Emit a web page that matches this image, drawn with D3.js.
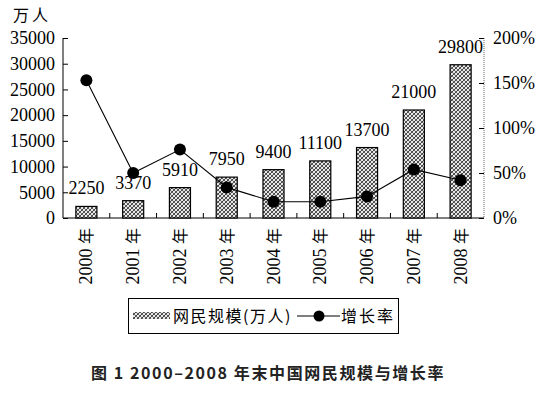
<!DOCTYPE html>
<html><head><meta charset="utf-8">
<script src="https://cdn.jsdelivr.net/npm/d3@7"></script>
<style>body{margin:0;background:#fff;}
.serif{font-family:'Liberation Serif','DejaVu Serif',serif !important;}
</style>
</head><body>
<svg id="c" width="544" height="393"></svg>
<script>
const years = ["2000","2001","2002","2003","2004","2005","2006","2007","2008"];
const users = [2250,3370,5910,7950,9400,11100,13700,21000,29800];
const growth = [153,50,76,34,18,18,24,54,42];
const leftTicks = [0,5000,10000,15000,20000,25000,30000,35000];
const rightTicks = [0,50,100,150,200];

const svg = d3.select("#c");
const L=63,R=484,T=38,B=218;
const serif = "Liberation Serif";
const cjk = "Noto Sans CJK SC";

const defs = svg.append("defs");
const pat = defs.append("pattern").attr("id","hatch").attr("patternUnits","userSpaceOnUse")
  .attr("width",4).attr("height",4);
pat.append("rect").attr("width",4).attr("height",4).attr("fill","#e6e6e6");
pat.append("path").attr("d","M-1,1 l2,-2 M0,4 l4,-4 M3,5 l2,-2").attr("stroke","#333").attr("stroke-width",0.9);
pat.append("path").attr("d","M-1,3 l2,2 M0,0 l4,4 M3,-1 l2,2").attr("stroke","#444").attr("stroke-width",0.8);

const x = d3.scaleBand().domain(years).range([L,R]).paddingInner(0.55).paddingOuter(0.275);
const yL = d3.scaleLinear().domain([0,35000]).range([B,T]);
const yR = d3.scaleLinear().domain([0,200]).range([B,T]);

// axes
const gl = svg.append("g").attr("transform",`translate(${L},0)`)
  .call(d3.axisLeft(yL).tickValues(leftTicks).tickSize(-5).tickPadding(8).tickFormat(d3.format("d")));
const gr = svg.append("g").attr("transform",`translate(${R},0)`)
  .call(d3.axisRight(yR).tickValues(rightTicks).tickSize(-5).tickPadding(9).tickFormat(d=>d+"%"));
[gl,gr].forEach(g=>{
  g.attr("font-family",serif).attr("font-size",18);
  g.select(".domain").attr("d",`M0,${T}V${B}`).attr("stroke","#000");
  g.selectAll("text").attr("class","serif").style("font-family",serif).attr("font-size",18).attr("fill","#000");
  g.selectAll("line").attr("stroke","#000");
});
gr.select(".domain").attr("stroke","#666").attr("stroke-dasharray","1,1");

// bottom axis line with category separators
const gb = svg.append("g");
gb.append("line").attr("x1",L).attr("x2",R).attr("y1",B).attr("y2",B).attr("stroke","#000").attr("stroke-width",1.2);
gb.selectAll(".sep").data(years.slice(1)).join("line")
  .attr("x1",d=>x(d)-x.step()*x.paddingInner()/2)
  .attr("x2",d=>x(d)-x.step()*x.paddingInner()/2)
  .attr("y1",B).attr("y2",B-5).attr("stroke","#000");

// bars
svg.selectAll(".bar").data(years).join("rect")
  .attr("x",d=>x(d)).attr("width",x.bandwidth())
  .attr("y",(d,i)=>yL(users[i])).attr("height",(d,i)=>B-yL(users[i]))
  .attr("fill","url(#hatch)").attr("stroke","#000").attr("stroke-width",1.2);

// bar labels
svg.selectAll(".bl").data(years).join("text")
  .attr("x",d=>x(d)+x.bandwidth()/2).attr("y",(d,i)=>yL(users[i])-12)
  .attr("text-anchor","middle").attr("class","serif").style("font-family",serif).attr("font-size",18)
  .text((d,i)=>users[i]);

// growth line
const line = d3.line().x((d,i)=>x(years[i])+x.bandwidth()/2).y(d=>yR(d));
svg.append("path").datum(growth).attr("d",line).attr("fill","none").attr("stroke","#000").attr("stroke-width",1.1);
svg.selectAll(".pt").data(growth).join("circle")
  .attr("cx",(d,i)=>x(years[i])+x.bandwidth()/2).attr("cy",d=>yR(d)).attr("r",6).attr("fill","#000");

// x labels rotated
svg.selectAll(".xl").data(years).join("text")
  .attr("transform",d=>`translate(${x(d)+x.bandwidth()/2+6},228) rotate(-90)`)
  .attr("text-anchor","end").attr("font-size",18)
  .each(function(d){
    const t=d3.select(this);
    t.append("tspan").style("font-family",serif).text(d+" ");
    t.append("tspan").style("font-family",cjk).attr("font-size",16).text("年");
  });

// unit label
svg.append("text").attr("x",13).attr("y",21).style("font-family",cjk).attr("font-size",16).attr("letter-spacing",3).text("万人");

// legend
const lg = svg.append("g");
lg.append("rect").attr("x",128.5).attr("y",298.5).attr("width",270).attr("height",35).attr("fill","#fff").attr("stroke","#000");
lg.append("rect").attr("x",133).attr("y",312).attr("width",37).attr("height",7).attr("fill","url(#hatch)");
lg.append("text").attr("x",173).attr("y",322).style("font-family",cjk).attr("font-size",16).attr("letter-spacing",1.5).text("网民规模(万人)");
lg.append("line").attr("x1",297).attr("x2",340).attr("y1",316).attr("y2",316).attr("stroke","#000").attr("stroke-width",1.2);
lg.append("circle").attr("cx",319).attr("cy",316).attr("r",5.5).attr("fill","#000");
lg.append("text").attr("x",341).attr("y",322).style("font-family",cjk).attr("font-size",16).attr("letter-spacing",2).text("增长率");

// title
svg.append("text").attr("x",268).attr("y",379).attr("text-anchor","middle").style("font-family",cjk)
  .attr("font-weight","bold").attr("font-size",16).attr("letter-spacing",1.6).attr("fill","#222").text("图 1  2000–2008 年末中国网民规模与增长率");
</script>
</body></html>
